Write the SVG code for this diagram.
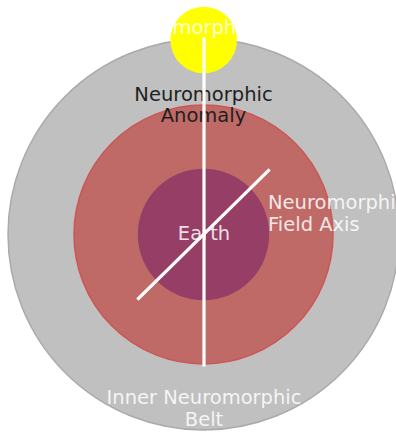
<svg xmlns="http://www.w3.org/2000/svg" width="396" height="435" viewBox="0 0 396 435">
<style>
text{font-family:"DejaVu Sans",sans-serif;font-size:19.5px}
.w{fill:#ffffff;fill-opacity:0.85}
.k{fill:#1f1f1f}
.ax{stroke:#ffffff;stroke-width:3.2;stroke-linecap:square;fill:none}
</style>
<rect width="396" height="435" fill="#ffffff"/>
<g id="belt">
<circle cx="203.5" cy="234.5" r="195.5" fill="#c0c0c0" stroke="#aaaaaa" stroke-width="1.5"/>
</g>
<g id="field">
<circle cx="203.5" cy="234.5" r="129.5" fill="#bf6a67" stroke="#cc5555" stroke-width="1.5"/>
</g>
<g id="earth">
<circle cx="203.5" cy="234.5" r="65.7" fill="#963e66"/>
</g>
<g id="sun">
<circle cx="203.7" cy="40" r="33.3" fill="#ffff00"/>
</g>
<g id="labels">
<text class="w" x="114" y="34">Neuromorphic</text>
<text class="k" x="203.5" y="100.5" text-anchor="middle">Neuromorphic</text>
<text class="k" x="203.5" y="122" text-anchor="middle">Anomaly</text>
<text class="w" x="204" y="240" text-anchor="middle">Earth</text>
<text class="w" x="268" y="208.5">Neuromorphic</text>
<text class="w" x="268" y="230.5">Field Axis</text>
<text class="w" x="204" y="404" text-anchor="middle">Inner Neuromorphic</text>
<text class="w" x="204" y="426" text-anchor="middle">Belt</text>
</g>
<g id="connectors">
<line class="ax" x1="204" y1="39" x2="204" y2="365"/>
<line class="ax" x1="138.5" y1="298.5" x2="268.5" y2="170.5"/>
</g>
</svg>
